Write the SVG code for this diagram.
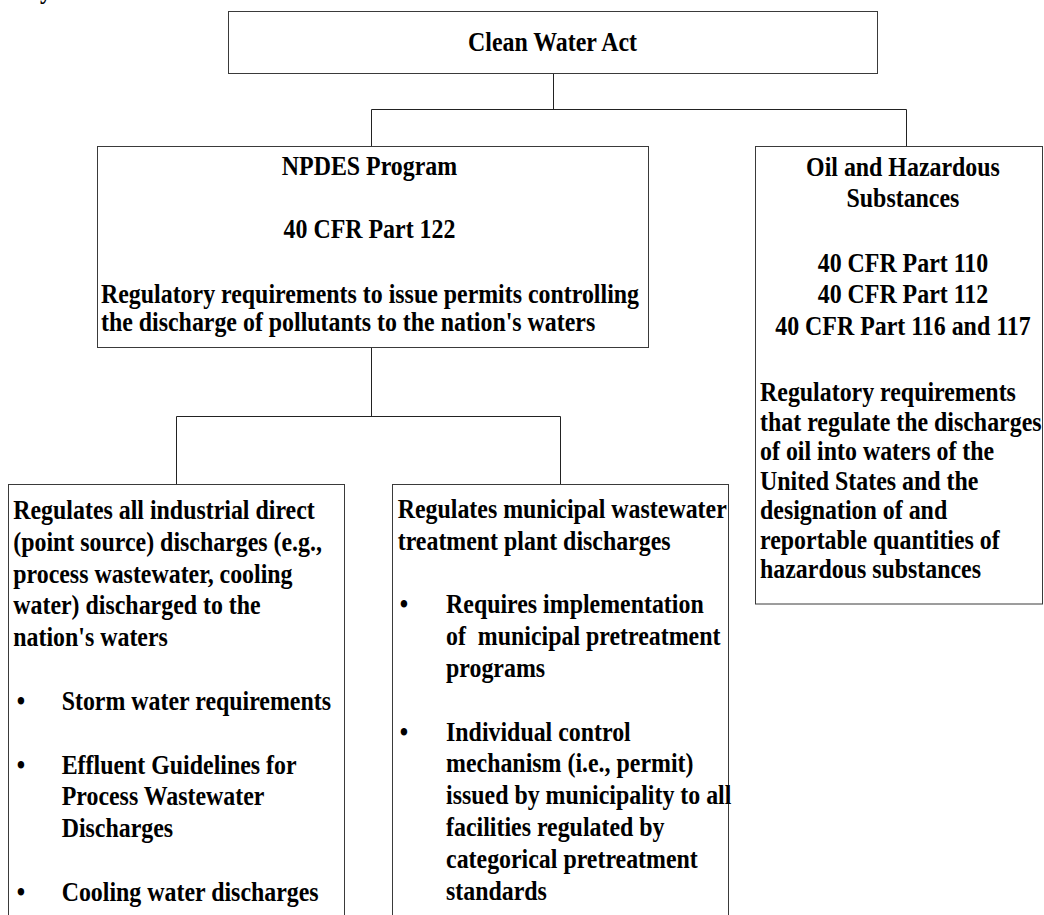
<svg xmlns="http://www.w3.org/2000/svg" width="1044" height="915" viewBox="0 0 1044 915">
<style>
.box{fill:#fff;stroke:#3a3a3a;stroke-width:1}
.ln{fill:none;stroke:#222;stroke-width:1}
.t{font-family:"Liberation Serif","Times New Roman",serif;font-weight:bold;font-size:27px;fill:#000}
.c{text-anchor:middle}
</style>
<rect width="1044" height="915" fill="#fff"/>
<text class="t" x="45.2" y="-2" transform="scale(0.885 1)">y</text>
<g id="connectors">
<path class="ln" d="M553.5 73.5V109.5M371.5 109.5H906.5M371.5 109.5V146.5M906.5 109.5V146.5"/>
<path class="ln" d="M371.5 347.5V416.5M176.5 416.5H560.5M176.5 416.5V484.5M560.5 416.5V484.5"/>
</g>
<g id="clean-water-act">
<rect class="box" x="228.5" y="11.5" width="649" height="62"/>
<text class="t c" x="624.3" y="51" transform="scale(0.885 1)">Clean Water Act</text>
</g>
<g id="npdes">
<rect class="box" x="97.5" y="146.5" width="551" height="201"/>
<g class="t" transform="scale(0.885 1)">
<text class="c" x="417.5" y="175">NPDES Program</text>
<text class="c" x="417.5" y="238">40 CFR Part 122</text>
<text x="114.1" y="303">Regulatory requirements to issue permits controlling</text>
<text x="114.1" y="331.5">the discharge of pollutants to the nation's waters</text>
</g>
</g>
<g id="oil-hazardous">
<rect class="box" x="755.5" y="146.5" width="287" height="457.5"/>
<g class="t" transform="scale(0.885 1)">
<text class="c" x="1020.3" y="176">Oil and Hazardous</text>
<text class="c" x="1020.3" y="206.7">Substances</text>
<text class="c" x="1020.3" y="271.7">40 CFR Part 110</text>
<text class="c" x="1020.3" y="303.3">40 CFR Part 112</text>
<text class="c" x="1020.3" y="335">40 CFR Part 116 and 117</text>
<text x="858.8" y="401.5">Regulatory requirements</text>
<text x="858.8" y="431">that regulate the discharges</text>
<text x="858.8" y="460.4">of oil into waters of the</text>
<text x="858.8" y="489.9">United States and the</text>
<text x="858.8" y="519.4">designation of and</text>
<text x="858.8" y="548.8">reportable quantities of</text>
<text x="858.8" y="578.3">hazardous substances</text>
</g>
</g>
<g id="industrial">
<rect class="box" x="8.5" y="484.5" width="336" height="450"/>
<g class="t" transform="scale(0.885 1)">
<text x="15" y="519">Regulates all industrial direct</text>
<text x="15" y="550.8">(point source) discharges (e.g.,</text>
<text x="15" y="582.6">process wastewater, cooling</text>
<text x="15" y="614.4">water) discharged to the</text>
<text x="15" y="646.2">nation's waters</text>
<text x="18.8" y="710">•</text>
<text x="69.7" y="710">Storm water requirements</text>
<text x="18.8" y="773.6">•</text>
<text x="69.7" y="773.6">Effluent Guidelines for</text>
<text x="69.7" y="805.4">Process Wastewater</text>
<text x="69.7" y="837.2">Discharges</text>
<text x="18.8" y="900.8">•</text>
<text x="69.7" y="900.8">Cooling water discharges</text>
</g>
</g>
<g id="municipal">
<rect class="box" x="392.5" y="484.5" width="336" height="450"/>
<g class="t" transform="scale(0.885 1)">
<text x="449.4" y="518.5">Regulates municipal wastewater</text>
<text x="449.4" y="550">treatment plant discharges</text>
<text x="451.8" y="613.4">•</text>
<text x="504" y="613.4">Requires implementation</text>
<text x="504" y="645.2" xml:space="preserve">of  municipal pretreatment</text>
<text x="504" y="677">programs</text>
<text x="451.8" y="740.6">•</text>
<text x="504" y="740.6">Individual control</text>
<text x="504" y="772.4">mechanism (i.e., permit)</text>
<text x="504" y="804.2">issued by municipality to all</text>
<text x="504" y="836">facilities regulated by</text>
<text x="504" y="867.8">categorical pretreatment</text>
<text x="504" y="899.6">standards</text>
</g>
</g>
</svg>
